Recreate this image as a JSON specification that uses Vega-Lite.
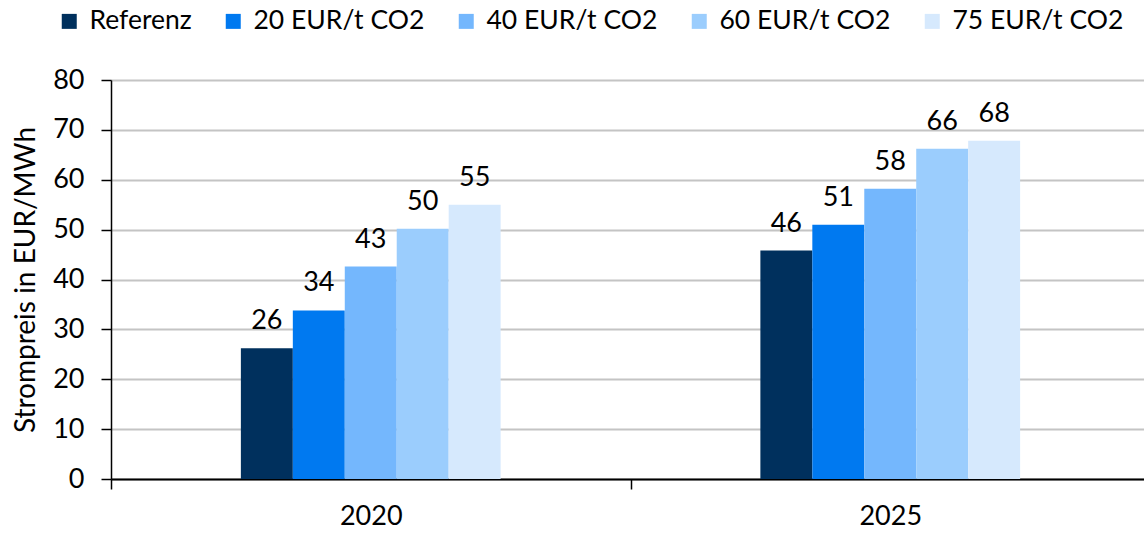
{
  "$schema": "https://vega.github.io/schema/vega-lite/v6.json",
  "width": 1039,
  "height": 399,
  "autosize": {"type": "none"},
  "padding": {"left": 111, "top": 80, "right": 0, "bottom": 54},
  "background": "white",
  "config": {
    "font": "Lato",
    "view": {"stroke": null},
    "axis": {"labelColor": "black", "titleColor": "black", "labelFont": "Lato", "titleFont": "Lato"}
  },
  "data": {
    "values": [
      {"year": "2020", "scenario": "Referenz", "value": 26.2},
      {"year": "2020", "scenario": "20 EUR/t CO2", "value": 33.8},
      {"year": "2020", "scenario": "40 EUR/t CO2", "value": 42.6},
      {"year": "2020", "scenario": "60 EUR/t CO2", "value": 50.2},
      {"year": "2020", "scenario": "75 EUR/t CO2", "value": 55.0},
      {"year": "2025", "scenario": "Referenz", "value": 45.8},
      {"year": "2025", "scenario": "20 EUR/t CO2", "value": 51.0},
      {"year": "2025", "scenario": "40 EUR/t CO2", "value": 58.2},
      {"year": "2025", "scenario": "60 EUR/t CO2", "value": 66.2},
      {"year": "2025", "scenario": "75 EUR/t CO2", "value": 67.8}
    ]
  },
  "encoding": {
    "x": {
      "field": "year", "type": "nominal",
      "scale": {"paddingInner": 0.5, "paddingOuter": 0.25},
      "axis": {
        "title": null, "labelAngle": 0, "labelFontSize": 27, "labelPadding": 14,
        "domainColor": "black", "domainWidth": 2, "tickColor": "black", "tickWidth": 1.5,
        "tickSize": 10, "tickOffset": -259.75, "labelOffset": 259.75, "grid": false
      }
    },
    "xOffset": {
      "field": "scenario", "type": "nominal",
      "sort": ["Referenz", "20 EUR/t CO2", "40 EUR/t CO2", "60 EUR/t CO2", "75 EUR/t CO2"],
      "scale": {"paddingInner": 0, "paddingOuter": 0}
    },
    "y": {
      "field": "value", "type": "quantitative",
      "scale": {"domain": [0, 80], "nice": false},
      "axis": {
        "title": "Strompreis in EUR/MWh", "titleFontSize": 28, "titleFontWeight": "normal", "titlePadding": 12,
        "values": [0, 10, 20, 30, 40, 50, 60, 70, 80],
        "labelFontSize": 27, "labelPadding": 17,
        "domainColor": "black", "domainWidth": 1.5, "tickColor": "black", "tickWidth": 1.5, "tickSize": 10,
        "grid": true, "gridColor": "#c4c4c4", "gridWidth": 2
      }
    }
  },
  "layer": [
    {
      "mark": {"type": "bar"},
      "encoding": {
        "color": {
          "field": "scenario", "type": "nominal",
          "sort": ["Referenz", "20 EUR/t CO2", "40 EUR/t CO2", "60 EUR/t CO2", "75 EUR/t CO2"],
          "scale": {
            "domain": ["Referenz", "20 EUR/t CO2", "40 EUR/t CO2", "60 EUR/t CO2", "75 EUR/t CO2"],
            "range": ["#00305d", "#0079f0", "#74b7fd", "#9bcdfd", "#d6e9fd"]
          },
          "legend": {
            "title": null, "orient": "none", "direction": "horizontal",
            "legendX": -55, "legendY": -72, "padding": 0,
            "symbolType": "square", "symbolSize": 225, "symbolStrokeWidth": 0,
            "labelFontSize": 26.5, "labelColor": "black", "labelFont": "Lato",
            "labelOffset": 7, "columnPadding": 28, "labelLimit": 300
          }
        }
      }
    },
    {
      "mark": {"type": "text", "fontSize": 27, "baseline": "alphabetic", "dy": -19, "color": "black"},
      "encoding": {
        "text": {"field": "value", "type": "quantitative", "format": ".0f"}
      }
    }
  ]
}
